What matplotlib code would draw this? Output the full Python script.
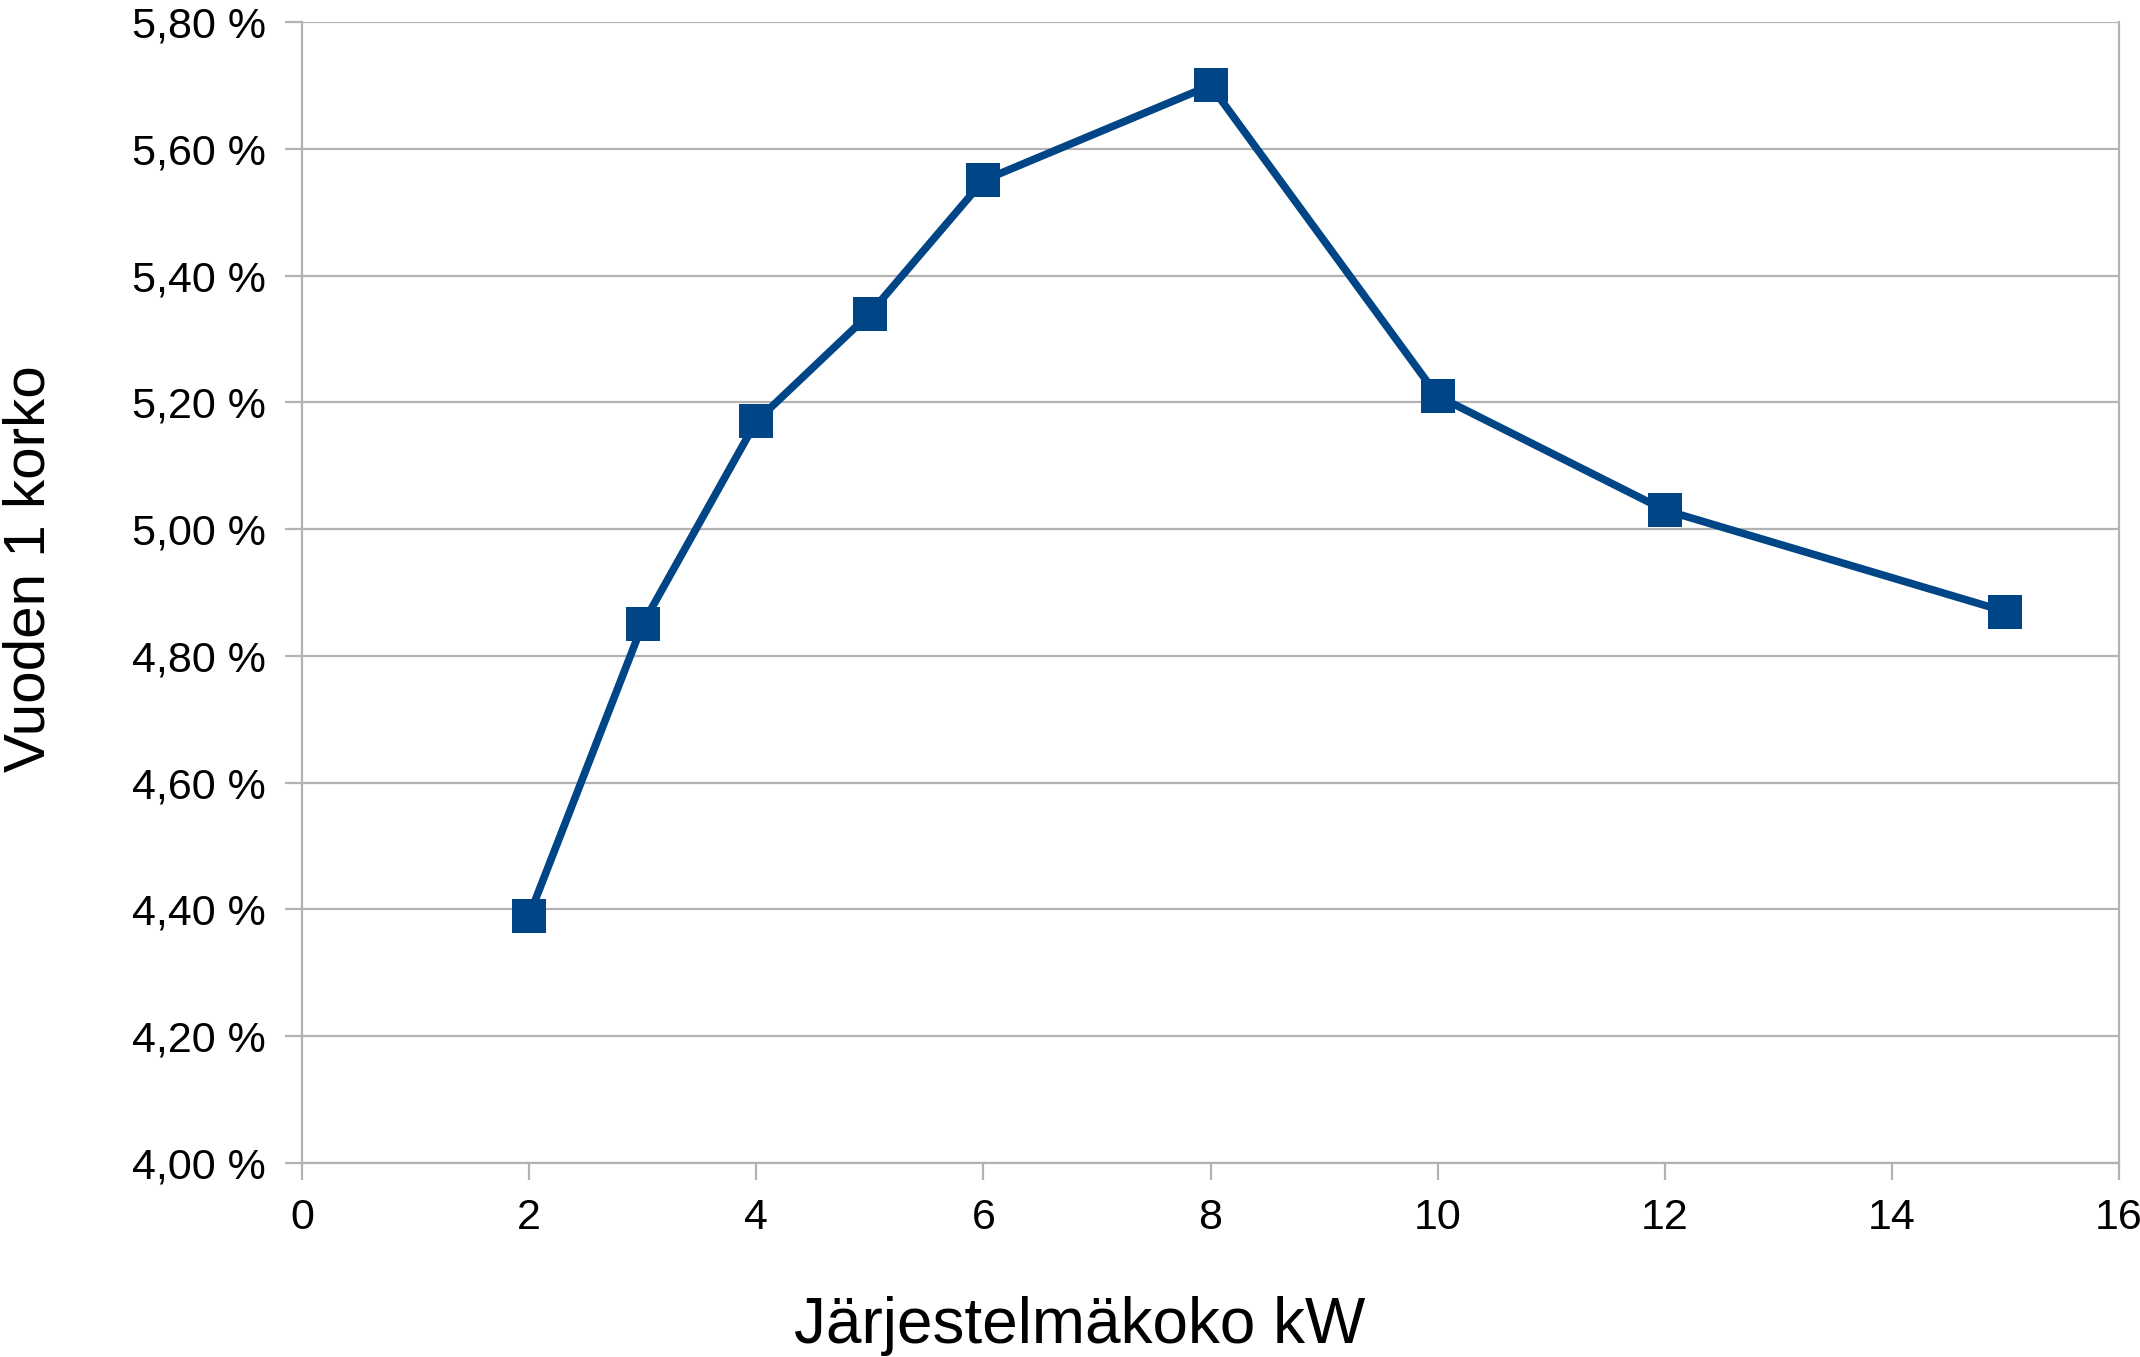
import matplotlib.pyplot as plt
from matplotlib.ticker import FuncFormatter

sizes_kw = [2, 3, 4, 5, 6, 8, 10, 12, 15]
rate_pct = [4.39, 4.85, 5.17, 5.34, 5.55, 5.70, 5.21, 5.03, 4.87]
y_ticks = [4.0, 4.2, 4.4, 4.6, 4.8, 5.0, 5.2, 5.4, 5.6, 5.8]
x_ticks = [0, 2, 4, 6, 8, 10, 12, 14, 16]

plt.rcParams['font.family'] = ['Liberation Sans', 'DejaVu Sans']

fig = plt.figure(figsize=(21.4, 13.57), dpi=100)
ax = fig.add_axes([302 / 2140, 1 - 1163 / 1357, (2119 - 302) / 2140, (1163 - 22) / 1357])

grid_col = '#b3b3b3'
ax.plot(sizes_kw, rate_pct, color='#004586', linewidth=5.5, marker='s',
        markersize=24, markerfacecolor='#004586', markeredgewidth=0, zorder=3)

ax.set_xlim(0, 16)
ax.set_ylim(4.0, 5.8)
ax.set_xticks(x_ticks)
ax.set_yticks(y_ticks)
ax.yaxis.set_major_formatter(FuncFormatter(lambda v, p: f"{v:.2f} %".replace('.', ',')))
ax.grid(axis='y', color=grid_col, linewidth=1.6)
ax.set_axisbelow(True)

for side in ['left', 'right', 'bottom']:
    ax.spines[side].set_color(grid_col)
    ax.spines[side].set_linewidth(1.6)
ax.spines['top'].set_visible(False)
ax.tick_params(axis='both', length=12, width=1.6, color=grid_col, labelsize=31)
ax.tick_params(axis='y', pad=14)
ax.tick_params(axis='x', pad=13)

ax.set_xlabel("Järjestelmäkoko kW", fontsize=46)
ax.xaxis.set_label_coords(0.428, -0.117)
ax.set_ylabel("Vuoden 1 korko", fontsize=42)
ax.yaxis.set_label_coords(-0.135, 0.521)

fig.savefig("out.png", dpi=100)
